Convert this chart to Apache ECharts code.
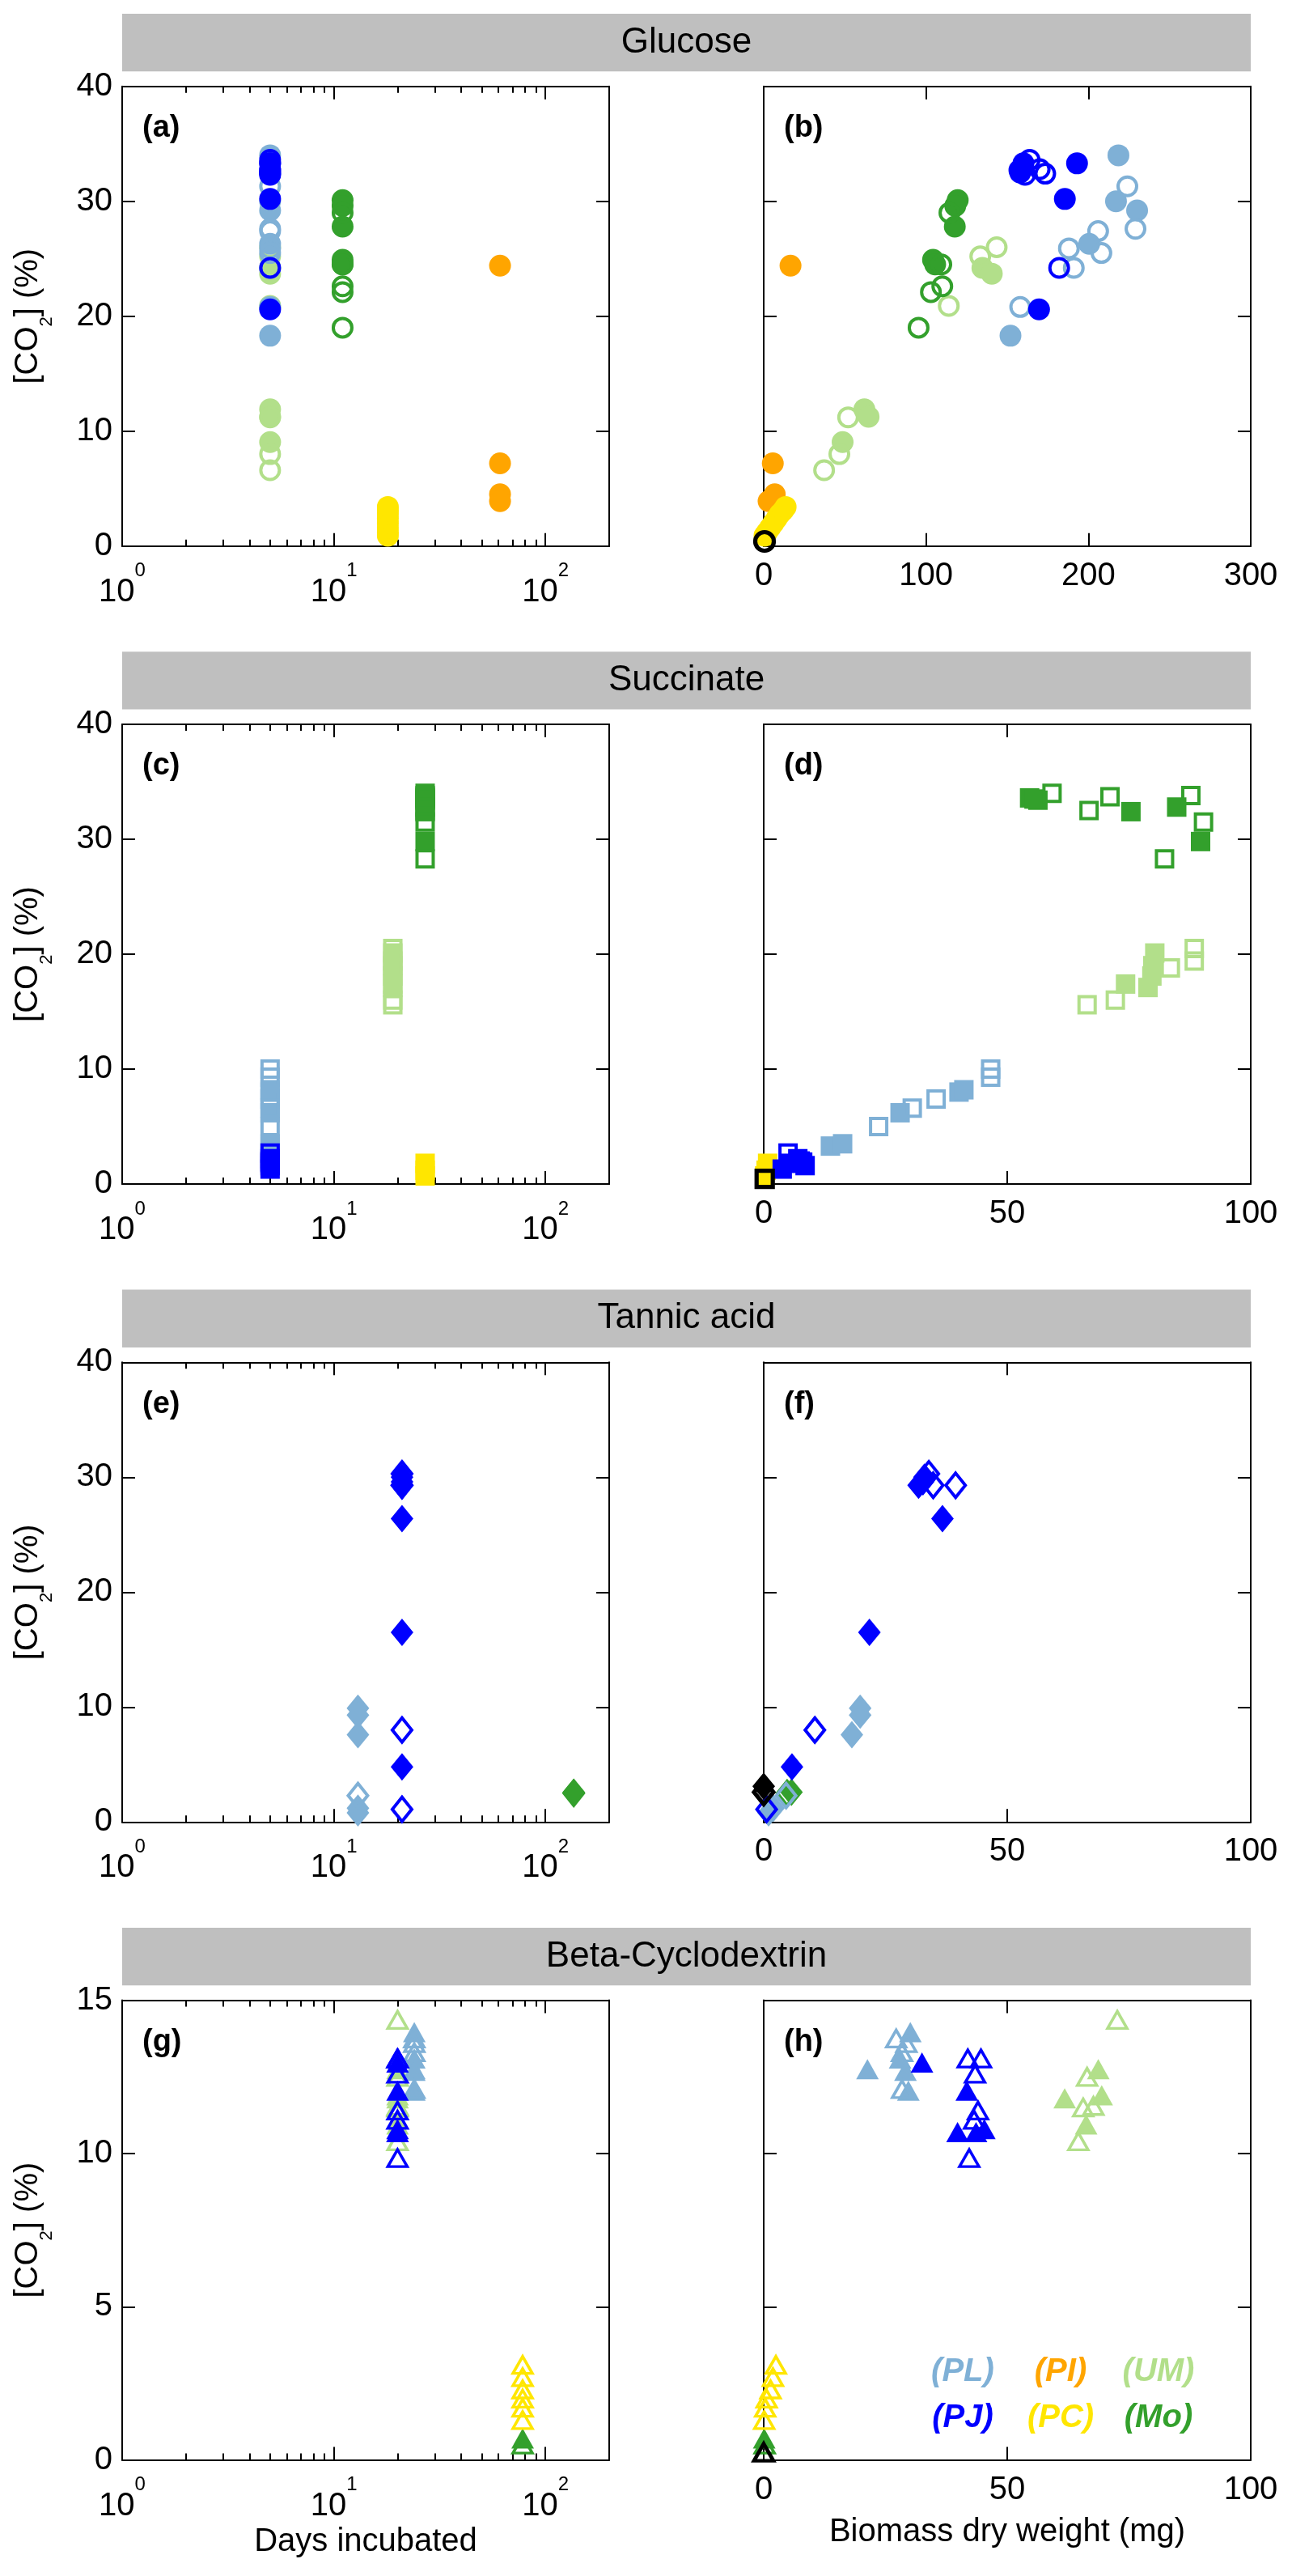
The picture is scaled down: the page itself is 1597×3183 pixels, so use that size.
<!DOCTYPE html>
<html><head><meta charset="utf-8">
<script src="https://cdn.jsdelivr.net/npm/echarts@6/dist/echarts.min.js"></script>
<style>html,body{margin:0;padding:0;background:#fff}#c{width:1597px;height:3183px}</style>
</head><body><div id="c"></div>
<script>
// ================= DATA =================
const STRAINS = ['PL', 'PJ', 'PI', 'PC', 'UM', 'Mo'];
const SUBSTRATES = ['Glucose', 'Succinate', 'Tannic acid', 'Beta-Cyclodextrin'];
const PANEL_LETTERS = ['(a)', '(b)', '(c)', '(d)', '(e)', '(f)', '(g)', '(h)'];
const LEGEND_LABELS = ['(PL)', '(PJ)', '(PI)', '(PC)', '(UM)', '(Mo)'];
const LOG_MAJOR_TICKS = [1, 10, 100];
const LOG_MINOR_TICKS = [2, 3, 4, 5, 6, 7, 8, 9, 20, 30, 40, 50, 60, 70, 80, 90];
const DAYS_RANGE = [1, 200];
const CO2_MAX = [40, 40, 40, 15];
const CO2_STEP = [10, 10, 10, 5];
const BIOMASS_MAX = [300, 100, 100, 100];
const BIOMASS_STEP = [100, 50, 50, 50];
const X_NAME_LEFT = 'Days incubated';
const X_NAME_RIGHT = 'Biomass dry weight (mg)';

// Days incubated per strain (STRAINS order); null = not incubated on that substrate
const gluDays = [5, 5, 61, 18, 5, 11];
const sucDays = [5, 5, null, 27, 19, 27];
const tanDays = [13, 21, null, null, null, 136];
const betDays = [24, 20, null, 78, 20, 78];

// Points: [biomass dry weight (mg), CO2 (%), hollow marker 1/0]
const gluPL = [[218.5,34.0,0],[217,30.0,0],[230,29.2,0],[200.5,26.3,0],[152,18.3,0],
  [224,31.3,1],[229,27.6,1],[206,27.4,1],[188,25.9,1],[208,25.5,1],[191,24.2,1],[158,20.8,1]];
const gluPJ = [[160,33.3,0],[158,32.5,0],[193,33.3,0],[185.5,30.2,0],[169.6,20.6,0],
  [157.5,32.7,1],[163.8,33.6,1],[170,32.8,1],[173.4,32.4,1],[161,32.3,1],[182,24.2,1]];
const gluPI = [[16.5,24.4,0],[5.6,7.2,0],[6.8,4.5,0],[3,3.9,0]];
const gluPC = [[0.5,0.9,0],[2,1.2,0],[4,1.6,0],[6,2.0,0],[8,2.4,0],[10,2.8,0],[12,3.1,0],[13.5,3.4,0]];
const gluUM = [[134.7,24.2,0],[140.5,23.7,0],[62,11.9,0],[64.6,11.25,0],[48.6,9.05,0],
  [143.5,26.0,1],[133.4,25.2,1],[114,20.9,1],[52,11.2,1],[46.6,8.0,1],[37.2,6.6,1]];
const gluMo = [[119.5,30.1,0],[118,29.6,0],[117.7,27.8,0],[104.3,24.9,0],[105.6,24.5,0],
  [114.4,29.0,1],[109.4,24.5,1],[110,22.6,1],[103,22.1,1],[95.4,19.0,1]];
const gluCtrl = [[0.5,0.4,1]];

const sucPL = [[40.1,8.0,0],[41.1,8.2,0],[28,6.2,0],[13.7,3.3,0],[16.2,3.5,0],
  [46.6,10.0,1],[46.6,9.3,1],[35.4,7.4,1],[30.5,6.6,1],[23.6,5.0,1]];
const sucPJ = [[3.8,1.3,0],[5.5,1.8,0],[7.5,2.0,0],[8.5,1.6,0],[5,2.7,1],[7,2.2,1],[8,1.9,1]];
const sucPI = [];
const sucPC = [[0.2,0.7,0],[0.5,1.2,0],[0.8,1.8,0]];
const sucUM = [[80.3,20.1,0],[79.9,19.0,0],[79.7,18.1,0],[74.3,17.4,0],[78.9,17.1,0],
  [88.4,20.5,1],[88.4,19.4,1],[83.5,18.8,1],[72.2,16.0,1],[66.4,15.6,1]];
const sucMo = [[54.6,33.6,0],[56.3,33.4,0],[55.5,33.5,0],[75.4,32.4,0],[84.8,32.8,0],[89.7,29.8,0],
  [59.2,34.0,1],[66.8,32.5,1],[71.1,33.7,1],[87.7,33.8,1],[90.3,31.5,1],[82.3,28.3,1]];
const sucCtrl = [[0.2,0.45,1]];

const tanPL = [[19.8,9.9,0],[19.8,9.3,0],[18.1,7.6,0],[1,0.8,0],[2,1.2,0],[4.6,2.3,1]];
const tanPJ = [[31.8,29.3,0],[32.7,29.6,0],[33,30.0,0],[36.7,26.4,0],[21.7,16.5,0],[5.8,4.8,0],
  [33.9,30.3,1],[34.8,29.3,1],[39.4,29.3,1],[10.5,8.0,1],[0.6,1.1,1]];
const tanPI = [];
const tanPC = [];
const tanUM = [];
const tanMo = [[5.7,2.6,0],[4.8,2.5,1]];
const tanCtrl = [[0,3.1,0],[0,2.6,1]];

const betPL = [[21.3,12.75,0],[30.1,13.96,0],[28,13.1,0],[29.1,12.7,0],[29.7,12.05,0],
  [27.2,13.75,1],[29.3,13.6,1],[28.4,13.3,1],[28.4,12.1,1]];
const betPJ = [[32.5,12.97,0],[41.7,12.05,0],[39.8,10.7,0],[45.3,10.8,0],[43.6,10.7,0],
  [41.9,13.1,1],[44.6,13.1,1],[43.4,12.6,1],[44,11.4,1],[43.2,11.1,1],[42.2,9.85,1]];
const betPI = [];
const betPC = [[2.5,3.1,1],[1.9,2.7,1],[1.4,2.3,1],[0.6,2.0,1],[0.3,1.7,1],[0.1,1.3,1]];
const betUM = [[68.7,12.75,0],[61.8,11.8,0],[69.4,11.9,0],[66.2,10.95,0],
  [72.6,14.36,1],[66.4,12.5,1],[67.7,11.55,1],[65.6,11.5,1],[64.6,10.4,1]];
const betMo = [[0.1,0.7,0],[0.2,0.5,1]];
const betCtrl = [[0,0.25,1]];

// ================= STYLE / LAYOUT =================
const FONT = '"Liberation Sans", Arial, Helvetica, sans-serif';
const COLORS = {PL:'#7FB0D6', PJ:'#0000FF', PI:'#FFA500', PC:'#FFE600', UM:'#B2DF8A', Mo:'#33A02C', Ctrl:'#000000'};
const SHAPES = [
  {symbol:'circle', filled:27, open:23, bw:4},
  {symbol:'rect', filled:24, open:20, bw:4},
  {symbol:'diamond', filled:[28,34], open:[24,30], bw:4},
  {symbol:'triangle', filled:[28,25], open:[24,21], bw:3.5}
];
const DRAW_ORDER = ['UM','Mo','PI','PC','PL','PJ'];
const ROW_PERIOD = 788.3;
const PLOT_TOP0 = 106.7, PLOT_H = 568, PLOT_W = 602;
const LEFT_X = 151, RIGHT_X = 944;
const BAND_TOP0 = 17, BAND_H = 71.3, BAND_X0 = 151, BAND_X1 = 1546;
const AX = {color:'#000', width:2};

const SUB_DATA = [
  {days:gluDays, sets:{PL:gluPL,PJ:gluPJ,PI:gluPI,PC:gluPC,UM:gluUM,Mo:gluMo}, ctrl:gluCtrl},
  {days:sucDays, sets:{PL:sucPL,PJ:sucPJ,PI:sucPI,PC:sucPC,UM:sucUM,Mo:sucMo}, ctrl:sucCtrl},
  {days:tanDays, sets:{PL:tanPL,PJ:tanPJ,PI:tanPI,PC:tanPC,UM:tanUM,Mo:tanMo}, ctrl:tanCtrl},
  {days:betDays, sets:{PL:betPL,PJ:betPJ,PI:betPI,PC:betPC,UM:betUM,Mo:betMo}, ctrl:betCtrl}
];

const grids = [], xAxes = [], yAxes = [], series = [], graphics = [];

function addX(o){ xAxes.push(o); return xAxes.length - 1; }
function addY(o){ yAxes.push(o); return yAxes.length - 1; }

const logLabel = {
  show:true, customValues:LOG_MAJOR_TICKS, margin:19,
  formatter: v => '{b|10}{s|' + Math.round(Math.log10(v)) + '}',
  rich:{
    b:{fontSize:40, lineHeight:58, verticalAlign:'bottom', fontFamily:FONT, color:'#000'},
    s:{fontSize:24, lineHeight:24, verticalAlign:'top', fontFamily:FONT, color:'#000'}
  }
};
const yNameRich = {
  m:{fontSize:40, lineHeight:40, verticalAlign:'top', fontFamily:FONT, color:'#000'},
  sub:{fontSize:22, lineHeight:22, verticalAlign:'bottom', fontFamily:FONT, color:'#000'},
  h:{fontSize:10, lineHeight:54, verticalAlign:'bottom', fontFamily:FONT, color:'#000'}
};

for (let r = 0; r < 4; r++) {
  const top = PLOT_TOP0 + ROW_PERIOD * r;
  const isLast = r === 3;
  const bandTop = BAND_TOP0 + ROW_PERIOD * r;
  graphics.push({type:'rect', shape:{x:BAND_X0, y:bandTop, width:BAND_X1-BAND_X0, height:BAND_H}, style:{fill:'#BFBFBF'}, silent:true});
  graphics.push({type:'text', x:(BAND_X0+BAND_X1)/2, y:bandTop + BAND_H/2, silent:true,
    style:{text:SUBSTRATES[r], fontSize:44, fontFamily:FONT, fill:'#000', textAlign:'center', textVerticalAlign:'middle'}});

  for (let c = 0; c < 2; c++) {
    const g = grids.length;
    const left = c === 0 ? LEFT_X : RIGHT_X;
    grids.push({left:left, top:top, width:PLOT_W, height:PLOT_H, outerBoundsMode:'none', containLabel:false});
    graphics.push({type:'text', x:left + 25, y:top + 52, silent:true,
      style:{text:PANEL_LETTERS[g], fontSize:38, fontWeight:'bold', fontFamily:FONT, fill:'#000', textAlign:'left', textVerticalAlign:'middle'}});

    let xi;
    if (c === 0) {
      const base = {type:'log', logBase:10, min:DAYS_RANGE[0], max:DAYS_RANGE[1], gridIndex:g, splitLine:{show:false}};
      xi = addX(Object.assign({}, base, {position:'bottom',
        axisLine:{show:true, onZero:false, lineStyle:AX},
        axisTick:{show:true, inside:true, length:16, lineStyle:AX, customValues:LOG_MAJOR_TICKS},
        axisLabel:logLabel,
        name: isLast ? X_NAME_LEFT : '', nameLocation:'middle', nameGap:81, nameMoveOverlap:false,
        nameTextStyle:{fontSize:40, fontFamily:FONT, color:'#000'}}));
      addX(Object.assign({}, base, {position:'bottom', axisLine:{show:false, onZero:false},
        axisTick:{show:true, inside:true, length:8, lineStyle:AX, customValues:LOG_MINOR_TICKS}, axisLabel:{show:false}}));
      addX(Object.assign({}, base, {position:'top', axisLine:{show:true, onZero:false, lineStyle:AX},
        axisTick:{show:true, inside:true, length:16, lineStyle:AX, customValues:LOG_MAJOR_TICKS}, axisLabel:{show:false}}));
      addX(Object.assign({}, base, {position:'top', axisLine:{show:false, onZero:false},
        axisTick:{show:true, inside:true, length:8, lineStyle:AX, customValues:LOG_MINOR_TICKS}, axisLabel:{show:false}}));
    } else {
      const base = {type:'value', min:0, max:BIOMASS_MAX[r], interval:BIOMASS_STEP[r], gridIndex:g, splitLine:{show:false},
        axisLine:{show:true, onZero:false, lineStyle:AX}, axisTick:{show:true, inside:true, length:16, lineStyle:AX}};
      xi = addX(Object.assign({}, base, {position:'bottom',
        axisLabel:{show:true, fontSize:40, fontFamily:FONT, color:'#000', margin:17},
        name: isLast ? X_NAME_RIGHT : '', nameLocation:'middle', nameGap:69, nameMoveOverlap:false,
        nameTextStyle:{fontSize:40, fontFamily:FONT, color:'#000'}}));
      addX(Object.assign({}, base, {position:'top', axisLabel:{show:false}}));
    }
    const ybase = {type:'value', min:0, max:CO2_MAX[r], interval:CO2_STEP[r], gridIndex:g, splitLine:{show:false},
      axisLine:{show:true, onZero:false, lineStyle:AX}, axisTick:{show:true, inside:true, length:16, lineStyle:AX}};
    const yi = addY(Object.assign({}, ybase, {position:'left',
      axisLabel:{show:c === 0, fontSize:40, fontFamily:FONT, color:'#000', margin:12},
      name: c === 0 ? '{m|[CO}{sub|2}{m|] (%)}{h|\u200b}' : '', nameLocation:'middle', nameRotate:90, nameGap:82, nameMoveOverlap:false,
      nameTextStyle:{fontSize:40, fontFamily:FONT, color:'#000', rich:yNameRich}}));
    addY(Object.assign({}, ybase, {position:'right', axisLabel:{show:false}}));

    const sd = SUB_DATA[r];
    const shape = SHAPES[r];
    const mk = (name, pts, color, hollow, bwMul) => {
      if (!pts.length) return;
      series.push({
        type:'scatter', name:name, xAxisIndex:xi, yAxisIndex:yi, data:pts,
        symbol:shape.symbol, symbolSize: hollow ? shape.open : shape.filled,
        itemStyle: hollow ? {color:'rgba(0,0,0,0)', borderColor:color, borderWidth:shape.bw * (bwMul || 1), opacity:1}
                          : {color:color, borderWidth:0, opacity:1},
        emphasis:{disabled:true}, silent:true, z:2
      });
    };
    DRAW_ORDER.forEach(s => {
      const idx = STRAINS.indexOf(s);
      const pts = sd.sets[s];
      if (c === 0) {
        const d = sd.days[idx];
        if (d == null) return;
        mk(s, pts.filter(p => !p[2]).map(p => [d, p[1]]), COLORS[s], false);
        mk(s, pts.filter(p => p[2]).map(p => [d, p[1]]), COLORS[s], true);
      } else {
        mk(s, pts.filter(p => !p[2]).map(p => [p[0], p[1]]), COLORS[s], false);
        mk(s, pts.filter(p => p[2]).map(p => [p[0], p[1]]), COLORS[s], true);
      }
    });
    if (c === 1) {
      mk('Ctrl', sd.ctrl.filter(p => !p[2]).map(p => [p[0], p[1]]), COLORS.Ctrl, false);
      mk('Ctrl', sd.ctrl.filter(p => p[2]).map(p => [p[0], p[1]]), COLORS.Ctrl, true, 1.3);
    }
  }
}

const LEG_POS = [[1190,2931],[1190,2988],[1311,2931],[1311,2988],[1432,2931],[1432,2988]];
LEGEND_LABELS.forEach((t, i) => {
  graphics.push({type:'text', x:LEG_POS[i][0], y:LEG_POS[i][1], silent:true, z:100,
    style:{text:t, fontSize:40, fontWeight:'bold', fontStyle:'italic', fontFamily:FONT, fill:COLORS[STRAINS[i]], textAlign:'center', textVerticalAlign:'middle'}});
});

const chart = echarts.init(document.getElementById('c'), null, {renderer:'canvas'});
chart.setOption({
  animation:false, backgroundColor:'#fff',
  grid:grids, xAxis:xAxes, yAxis:yAxes, series:series,
  graphic:{elements:graphics}
});
</script></body></html>
